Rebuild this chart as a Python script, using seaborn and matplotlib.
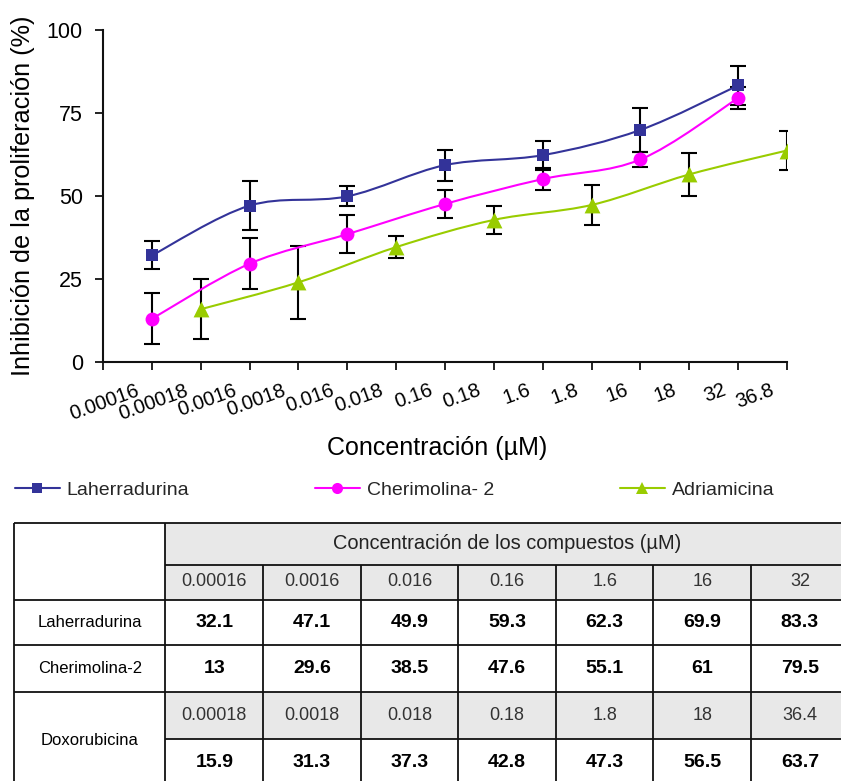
import matplotlib
matplotlib.use("Agg")
import matplotlib.pyplot as plt
import matplotlib.transforms as mtransforms
from matplotlib.path import Path
from matplotlib.patches import PathPatch, Rectangle
from matplotlib.lines import Line2D
import pandas as pd
import seaborn as sns

# ---------------------------------------------------------------- data
categories = ["0.00016", "0.00018", "0.0016", "0.0018", "0.016", "0.018",
              "0.16", "0.18", "1.6", "1.8", "16", "18", "32", "36.8"]

lah_conc = ["0.00016", "0.0016", "0.016", "0.16", "1.6", "16", "32"]
lah_values = [32.1, 47.1, 49.9, 59.3, 62.3, 69.9, 83.3]
lah_err = [4.2, 7.4, 3.0, 4.7, 4.4, 6.6, 6.0]

che_conc = ["0.00016", "0.0016", "0.016", "0.16", "1.6", "16", "32"]
che_values = [13, 29.6, 38.5, 47.6, 55.1, 61, 79.5]
che_err = [7.7, 7.7, 5.8, 4.2, 3.2, 2.3, 3.3]

adr_conc = ["0.00018", "0.0018", "0.018", "0.18", "1.8", "18", "36.8"]
adr_values = [15.9, 24.0, 34.6, 42.8, 47.3, 56.5, 63.7]
adr_err = [9.1, 10.9, 3.4, 4.2, 6.1, 6.5, 5.8]

# table contents
table_title = "Concentración de los compuestos (µM)"
table_conc_a = ["0.00016", "0.0016", "0.016", "0.16", "1.6", "16", "32"]
table_conc_b = ["0.00018", "0.0018", "0.018", "0.18", "1.8", "18", "36.4"]
doxo_values = [15.9, 31.3, 37.3, 42.8, 47.3, 56.5, 63.7]

series = [
    ("Laherradurina", lah_conc, lah_values, lah_err),
    ("Cherimolina- 2", che_conc, che_values, che_err),
    ("Adriamicina", adr_conc, adr_values, adr_err),
]
rows = []
for name, conc, vals, errs in series:
    for c, v, e in zip(conc, vals, errs):
        rows.append({"compuesto": name, "conc": c,
                     "pos": categories.index(c), "inhib": v, "err": e})
df = pd.DataFrame(rows)

styles = {
    "Laherradurina": dict(color="#333399", marker="s", s=85, ms=8.0),
    "Cherimolina- 2": dict(color="#FF00FF", marker="o", s=100, ms=8.5),
    "Adriamicina": dict(color="#99CC00", marker="^", s=130, ms=9.5),
}

# ---------------------------------------------------------------- style
sns.set_theme(style="white")
plt.rcParams["font.family"] = ["Liberation Sans", "DejaVu Sans"]

W, H = 841, 781
fig = plt.figure(figsize=(W / 100, H / 100), dpi=100)
ax = fig.add_axes([103 / W, 1 - 362 / H, 684 / W, 332 / H])


def smooth_path(xs, ys):
    """Cubic Bezier path through the points (Catmull-Rom tangents)."""
    pts = list(zip(xs, ys))
    verts = [pts[0]]
    codes = [Path.MOVETO]
    n = len(pts)
    for i in range(n - 1):
        p0 = pts[i - 1] if i > 0 else pts[i]
        p1 = pts[i]
        p2 = pts[i + 1]
        p3 = pts[i + 2] if i + 2 < n else pts[i + 1]
        c1 = (p1[0] + (p2[0] - p0[0]) / 6, p1[1] + (p2[1] - p0[1]) / 6)
        c2 = (p2[0] - (p3[0] - p1[0]) / 6, p2[1] - (p3[1] - p1[1]) / 6)
        verts += [c1, c2, p2]
        codes += [Path.CURVE4] * 3
    return Path(verts, codes)


for name, sub in df.groupby("compuesto", sort=False):
    st = styles[name]
    ax.errorbar(sub["pos"], sub["inhib"], yerr=sub["err"], fmt="none",
                ecolor="black", elinewidth=1.5, capsize=5.5, capthick=1.5,
                zorder=2)
    ax.add_patch(PathPatch(smooth_path(sub["pos"].tolist(), sub["inhib"].tolist()),
                           facecolor="none", edgecolor=st["color"], lw=1.5,
                           zorder=3))
    sns.scatterplot(data=sub, x="pos", y="inhib", marker=st["marker"],
                    s=st["s"], color=st["color"], edgecolor=st["color"],
                    linewidth=0, ax=ax, zorder=4, legend=False)

ax.set_xlim(-1, len(categories) - 1)
ax.set_ylim(0, 100)
ax.set_yticks([0, 25, 50, 75, 100])
ax.set_xticks(range(-1, len(categories)))
ax.set_xticklabels([""] + categories, rotation=20, ha="right", va="top")

for side in ("top", "right"):
    ax.spines[side].set_visible(False)
for side in ("left", "bottom"):
    ax.spines[side].set_color("#111111")
    ax.spines[side].set_linewidth(1.5)

ax.tick_params(axis="both", direction="out", length=5.5, width=1.3,
               color="#111111", labelcolor="black")
ax.tick_params(axis="x", pad=8, labelsize=14.5)
ax.tick_params(axis="y", pad=9, labelsize=15.5)
ax.tick_params(left=True, bottom=True)

shift = mtransforms.ScaledTranslation(-10 / 100, 0, fig.dpi_scale_trans)
for lab in ax.xaxis.get_majorticklabels():
    lab.set_transform(lab.get_transform() + shift)

ax.set_xlabel("Concentración (µM)", fontsize=18, color="black")
ax.set_ylabel("Inhibición de la proliferación (%)", fontsize=18.2,
              color="black")
ax.xaxis.set_label_coords(0.488, -0.222)
ax.yaxis.set_label_coords(-0.099, 0.5)

# ---------------------------------------------------------------- legend
legend_x = {"Laherradurina": 15, "Cherimolina- 2": 315, "Adriamicina": 620}
for name, _, _, _ in series:
    st = styles[name]
    h = Line2D([0], [0], color=st["color"], lw=1.5, marker=st["marker"],
               markersize=st["ms"] - 0.5, markeredgewidth=0)
    fig.legend([h], [name], loc="center left",
               bbox_to_anchor=(legend_x[name] / W, 1 - 490 / H),
               frameon=False, fontsize=14, handlelength=2.3,
               handletextpad=0.35, borderpad=0, borderaxespad=0)

# ---------------------------------------------------------------- table
tax = fig.add_axes([0, 0, 1, 1], zorder=-1)
tax.set_xlim(0, W)
tax.set_ylim(H, 0)
tax.axis("off")

left, first_right, col_w = 14, 165.5, 97.6
ncol = len(table_conc_a)
col_edges = [first_right + i * col_w for i in range(ncol + 1)]
right = col_edges[-1]
r_top, r_head, r_conc, r_lah, r_che, r_dconc, r_bot = 522.5, 564.5, 599.5, 645, 691.5, 739, 786
gray = "#E8E8E8"
line_kw = dict(color="#111111", lw=1.3, solid_capstyle="butt", zorder=3)

for y0, y1 in ((r_top, r_conc), (r_che, r_dconc)):
    tax.add_patch(Rectangle((first_right, y0), right - first_right, y1 - y0,
                            facecolor=gray, edgecolor="none", zorder=1))

tax.plot([left, right], [r_top, r_top], **line_kw)
tax.plot([left, left], [r_top, r_bot], **line_kw)
tax.plot([first_right, first_right], [r_top, r_bot], **line_kw)
tax.plot([first_right, right], [r_head, r_head], **line_kw)
for y in (r_conc, r_lah, r_che):
    tax.plot([left, right], [y, y], **line_kw)
tax.plot([first_right, right], [r_dconc, r_dconc], **line_kw)
for x in col_edges[1:]:
    tax.plot([x, x], [r_head, r_bot], **line_kw)

centers = [(col_edges[i] + col_edges[i + 1]) / 2 for i in range(ncol)]
tax.text((first_right + right) / 2, (r_top + r_head) / 2, table_title,
         ha="center", va="center", fontsize=14.4, color="#222222")


def row_text(labels, y0, y1, bold):
    for cx, t in zip(centers, labels):
        tax.text(cx, (y0 + y1) / 2, t, ha="center", va="center",
                 fontsize=14 if bold else 13,
                 color="black" if bold else "#333333",
                 fontweight="bold" if bold else "normal")


row_text(table_conc_a, r_head, r_conc, False)
row_text([f"{v:g}" for v in lah_values], r_conc, r_lah, True)
row_text([f"{v:g}" for v in che_values], r_lah, r_che, True)
row_text(table_conc_b, r_che, r_dconc, False)
row_text([f"{v:g}" for v in doxo_values], r_dconc, r_bot, True)

label_x = (left + first_right) / 2
tax.text(label_x, (r_conc + r_lah) / 2, "Laherradurina", ha="center",
         va="center", fontsize=12, color="black")
tax.text(label_x, (r_lah + r_che) / 2, "Cherimolina-2", ha="center",
         va="center", fontsize=12, color="black")
tax.text(label_x, (r_che + r_bot) / 2 + 2, "Doxorubicina", ha="center",
         va="center", fontsize=12, color="black")

fig.savefig("out.png", dpi=100)
